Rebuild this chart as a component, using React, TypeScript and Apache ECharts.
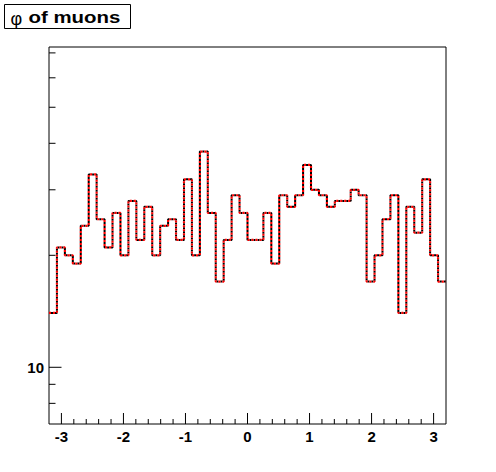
import React, { useEffect, useRef } from "react";
import * as echarts from "echarts";

// Histogram: phi of muons, 50 bins from -3.2 to 3.2
const X_MIN = -3.2;
const X_MAX = 3.2;
const Y_MIN = 7.04;
const Y_MAX = 72.6;

const binCounts: number[] = [
  14, 21, 20, 19, 24, 33, 25, 21, 26, 20,
  28, 22, 27, 20, 24, 25, 22, 32, 20, 38,
  26, 17, 22, 29, 26, 22, 22, 26, 19, 29,
  27, 29, 35, 30, 29, 27, 28, 28, 30, 29,
  17, 20, 25, 29, 14, 27, 23, 32, 20, 17,
];

const xMajorTicks: number[] = [-3, -2, -1, 0, 1, 2, 3];
const xMajorLabels: string[] = ["-3", "-2", "-1", "0", "1", "2", "3"];
const xMinorTicks: number[] = [
  -2.8, -2.6, -2.4, -2.2, -1.8, -1.6, -1.4, -1.2, -0.8, -0.6, -0.4, -0.2,
  0.2, 0.4, 0.6, 0.8, 1.2, 1.4, 1.6, 1.8, 2.2, 2.4, 2.6, 2.8,
];
const yMajorTicks: number[] = [10];
const yMajorLabels: string[] = ["10"];
const yMinorTicks: number[] = [8, 9, 20, 30, 40, 50, 60, 70];

const TITLE_SYMBOL = "\u03c6";
const TITLE_TEXT = "of muons";

const FONT = '"Liberation Sans", Arial, Helvetica, sans-serif';

export default function App() {
  const ref = useRef<HTMLDivElement>(null);

  useEffect(() => {
    if (!ref.current) return;
    const chart = echarts.init(ref.current, undefined, { renderer: "svg" });

    const binWidth = (X_MAX - X_MIN) / binCounts.length;
    const histData: number[][] = binCounts.map((c, i) => [X_MIN + i * binWidth, c]);
    histData.push([X_MAX, binCounts[binCounts.length - 1]]);

    const xTickData = [
      ...xMajorTicks.map((v) => [v, 1]),
      ...xMinorTicks.map((v) => [v, 0]),
    ];
    const yTickData = [
      ...yMajorTicks.map((v) => [v, 1]),
      ...yMinorTicks.map((v) => [v, 0]),
    ];

    const option: any = {
      animation: false,
      backgroundColor: "#fff",
      grid: {
        left: 49,
        top: 47,
        right: 50,
        bottom: 48,
        show: true,
        borderColor: "#000",
        borderWidth: 1,
        backgroundColor: "transparent",
      },
      xAxis: {
        type: "value",
        min: X_MIN,
        max: X_MAX,
        axisLine: { show: false },
        axisTick: { show: false },
        axisLabel: { show: false },
        splitLine: { show: false },
      },
      yAxis: {
        type: "log",
        logBase: 10,
        min: Y_MIN,
        max: Y_MAX,
        axisLine: { show: false },
        axisTick: { show: false },
        axisLabel: { show: false },
        splitLine: { show: false },
        minorTick: { show: false },
        minorSplitLine: { show: false },
      },
      graphic: [
        {
          type: "rect",
          shape: { x: 4.5, y: 4.5, width: 126, height: 24 },
          style: { fill: "#fff", stroke: "#000", lineWidth: 1 },
          z: 100,
        },
        {
          type: "text",
          x: 10.5,
          y: 18.5,
          style: {
            text: TITLE_SYMBOL,
            font: `18px ${FONT}`,
            fill: "#000",
            verticalAlign: "middle",
            align: "left",
          },
          z: 101,
        },
        {
          type: "text",
          x: 28.5,
          y: 17.5,
          scaleX: 1.2,
          style: {
            text: TITLE_TEXT,
            font: `bold 17px ${FONT}`,
            fill: "#000",
            verticalAlign: "middle",
            align: "left",
          },
          z: 101,
        },
      ],
      series: [
        {
          type: "line",
          step: "end",
          data: histData,
          showSymbol: false,
          symbol: "none",
          lineStyle: { color: "#000", width: 2, type: [2, 2], dashOffset: 2 },
          z: 2,
        },
        {
          type: "line",
          step: "end",
          data: histData,
          showSymbol: false,
          symbol: "none",
          lineStyle: { color: "#ff0000", width: 2.2, type: [2, 2], dashOffset: 0 },
          z: 3,
        },
        {
          type: "custom",
          coordinateSystem: "cartesian2d",
          data: xTickData,
          clip: false,
          silent: true,
          z: 4,
          renderItem: (params: any, api: any) => {
            const v = api.value(0);
            const major = api.value(1) === 1;
            const p = api.coord([v, Y_MIN]);
            const len = major ? 11 : 5;
            const children: any[] = [
              {
                type: "line",
                shape: { x1: p[0], y1: p[1], x2: p[0], y2: p[1] - len },
                style: { stroke: "#000", lineWidth: 1 },
              },
            ];
            if (major) {
              children.push({
                type: "text",
                x: p[0],
                y: p[1] + 12.5,
                style: {
                  text: xMajorLabels[params.dataIndex],
                  font: `bold 15px ${FONT}`,
                  fill: "#000",
                  align: "center",
                  verticalAlign: "middle",
                },
              });
            }
            return { type: "group", children };
          },
        },
        {
          type: "custom",
          coordinateSystem: "cartesian2d",
          data: yTickData.map((d) => [X_MIN, d[0], d[1]]),
          clip: false,
          silent: true,
          z: 4,
          renderItem: (params: any, api: any) => {
            const v = api.value(1);
            const major = api.value(2) === 1;
            const p = api.coord([X_MIN, v]);
            const len = major ? 12.5 : 6.5;
            const children: any[] = [
              {
                type: "line",
                shape: { x1: p[0], y1: p[1], x2: p[0] + len, y2: p[1] },
                style: { stroke: "#000", lineWidth: 1 },
              },
            ];
            if (major) {
              children.push({
                type: "text",
                x: p[0] - 5,
                y: p[1],
                style: {
                  text: yMajorLabels[params.dataIndex],
                  font: `bold 15px ${FONT}`,
                  fill: "#000",
                  align: "right",
                  verticalAlign: "middle",
                },
              });
            }
            return { type: "group", children };
          },
        },
      ],
    };

    chart.setOption(option);
    return () => {
      chart.dispose();
    };
  }, []);

  return (
    <div
      ref={ref}
      style={{
        position: "absolute",
        left: 0,
        top: 0,
        width: 496,
        height: 472,
        background: "#fff",
      }}
    />
  );
}
